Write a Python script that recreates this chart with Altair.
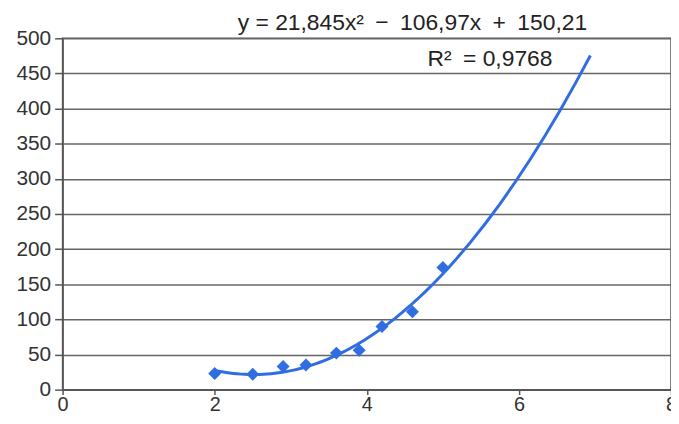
import altair as alt
import pandas as pd

xs = [2.0, 2.5, 2.9, 3.2, 3.6, 3.9, 4.2, 4.6, 5.0]
ys = [23, 22, 33, 35, 52, 56, 90, 111, 174]

eq_text = ["y = 21,845x²\u2002−\u2002106,97x\u2002+\u2002150,21"]
r2_text = ["R²\u2002= 0,9768"]

df = pd.DataFrame({"x": xs, "y": ys})
BLUE = "#2f6de0"
FONT = "Liberation Sans"

xscale = alt.Scale(domain=[0, 8], nice=False, zero=False)
yscale = alt.Scale(domain=[0, 500], nice=False)

xaxis = alt.Axis(values=[0, 2, 4, 6, 8], format="d", grid=False, title=None, labelFontSize=20,
                 labelFont=FONT, labelColor="#333", domainColor="#555", domainWidth=1.5,
                 tickColor="#555", tickSize=5, tickWidth=1.5, labelPadding=0,
                 labelFlush=False, labelOverlap=False)
yaxis = alt.Axis(values=list(range(0, 501, 50)), format="d", grid=True, gridColor="#666",
                 gridWidth=1.5, title=None, labelFontSize=21, labelFont=FONT, labelColor="#333",
                 domainColor="#555", domainWidth=1.5, tickColor="#555", tickSize=8,
                 tickWidth=1.5, labelPadding=4, labelOverlap=False)

X = alt.X("x:Q", scale=xscale, axis=xaxis)
Y = alt.Y("y:Q", scale=yscale, axis=yaxis)

base = alt.Chart(df)

points = base.mark_point(shape="diamond", filled=True, size=170, color=BLUE, opacity=1).encode(
    x=X, y=Y
)

curve = base.transform_regression("x", "y", method="poly", order=2, extent=[2, 6.94]).mark_line(
    color=BLUE, strokeWidth=3
).encode(x=X, y=Y)

eq = alt.Chart(pd.DataFrame({"t": eq_text, "x": [4.6], "y": [512]})).mark_text(
    fontSize=23, font=FONT, color="#222", align="center", baseline="alphabetic"
).encode(x=X, y=Y, text="t:N")

r2 = alt.Chart(pd.DataFrame({"t": r2_text, "x": [5.62], "y": [460]})).mark_text(
    fontSize=23, font=FONT, color="#222", align="center", baseline="alphabetic"
).encode(x=X, y=Y, text="t:N")

chart = alt.layer(curve, points, eq, r2).properties(
    width=613, height=354,
    autosize=alt.AutoSizeParams(type="none"),
    padding={"left": 55, "top": 29, "right": 0, "bottom": 25},
    background="white",
).configure_view(stroke="#555", strokeWidth=1.5)

chart.save("out.html", embed_options={"renderer": "svg", "actions": False})
